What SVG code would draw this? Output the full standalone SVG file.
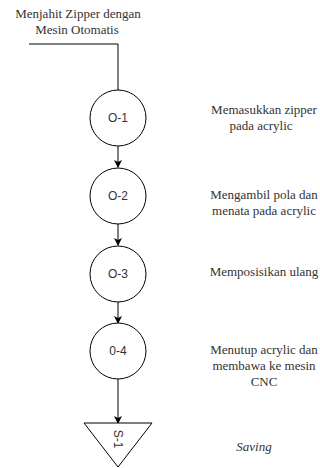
<svg xmlns="http://www.w3.org/2000/svg" width="320" height="468" viewBox="0 0 320 468">
<style>
.node{fill:#fff;stroke:#000;stroke-width:1}
.lbl{font-family:"Liberation Sans",Arial,sans-serif;font-size:12px;fill:#333;text-anchor:middle}
.txt{font-family:"Liberation Serif","Times New Roman","DejaVu Serif",serif;font-size:13px;fill:#333;text-anchor:middle}
.edge{fill:none;stroke:#000;stroke-width:1}
</style>
<defs>
<marker id="arr" markerWidth="8" markerHeight="8" refX="7" refY="4" orient="auto" markerUnits="userSpaceOnUse">
<path d="M0,0 L8,4 L0,8 L2,4 Z" fill="#000"/>
</marker>
</defs>
<g id="title">
<text class="txt" x="78" y="18">Menjahit Zipper dengan</text>
<text class="txt" x="77" y="34">Mesin Otomatis</text>
</g>
<g id="connectors">
<path class="edge" d="M29,44 H118 V90"/>
<path class="edge" d="M118,146 V167" marker-end="url(#arr)"/>
<path class="edge" d="M118,224 V245" marker-end="url(#arr)"/>
<path class="edge" d="M118,302 V323" marker-end="url(#arr)"/>
<path class="edge" d="M118,379 V423" marker-end="url(#arr)"/>
</g>
<g id="O-1">
<circle class="node" cx="118" cy="118" r="28"/>
<text class="lbl" x="118" y="122">O-1</text>
</g>
<g id="O-2">
<circle class="node" cx="118" cy="196" r="28"/>
<text class="lbl" x="118" y="200">O-2</text>
</g>
<g id="O-3">
<circle class="node" cx="118" cy="274" r="28"/>
<text class="lbl" x="118" y="278">O-3</text>
</g>
<g id="O-4">
<circle class="node" cx="118" cy="351" r="28"/>
<text class="lbl" x="118" y="355">0-4</text>
</g>
<g id="S-1">
<path class="node" d="M84,423 H152 L118,467 Z"/>
<text class="lbl" transform="translate(114,439) rotate(90)" x="0" y="0">S-1</text>
</g>
<g id="labels">
<text class="txt" x="264" y="114">Memasukkan zipper</text>
<text class="txt" x="261" y="130">pada acrylic</text>
<text class="txt" x="264" y="199">Mengambil pola dan</text>
<text class="txt" x="264" y="215">menata pada acrylic</text>
<text class="txt" x="264" y="276">Memposisikan ulang</text>
<text class="txt" x="264" y="354">Menutup acrylic dan</text>
<text class="txt" x="264" y="370">membawa ke mesin</text>
<text class="txt" x="264" y="386">CNC</text>
<text class="txt" x="254" y="451" font-style="italic">Saving</text>
</g>
</svg>
